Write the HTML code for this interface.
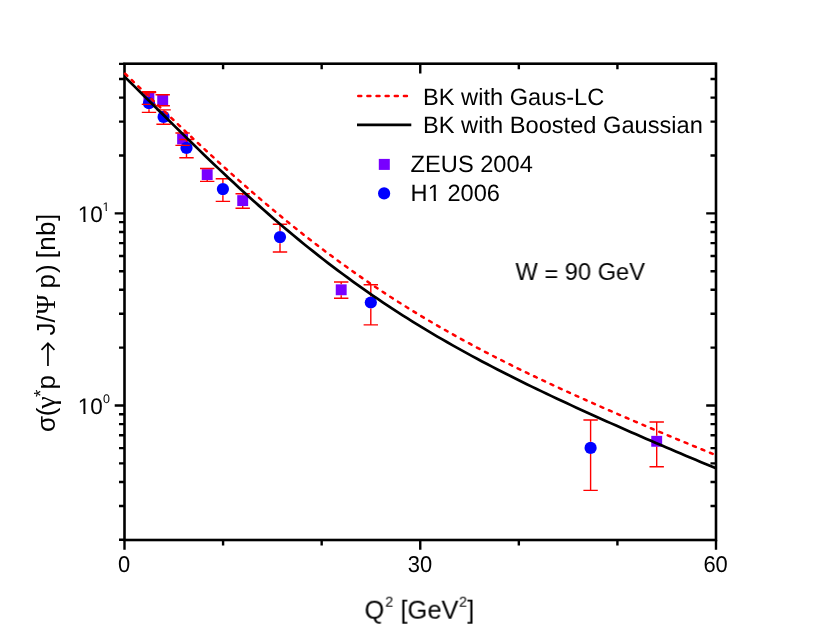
<!DOCTYPE html>
<html><head><meta charset="utf-8"><title>chart</title><style>html,body{margin:0;padding:0;background:#fff}body{width:830px;height:635px;overflow:hidden;font-family:"Liberation Sans",sans-serif}</style></head><body>
<svg width="830" height="635" viewBox="0 0 830 635" style="display:block">
<rect x="0" y="0" width="830" height="635" fill="#ffffff"/>
<g fill="#7800ff">
<rect x="143.45" y="92.95" width="10.9" height="10.9"/>
<rect x="157.25" y="94.65" width="10.9" height="10.9"/>
<rect x="177.15" y="133.55" width="10.9" height="10.9"/>
<rect x="201.75" y="169.15" width="10.9" height="10.9"/>
<rect x="237.25" y="195.15" width="10.9" height="10.9"/>
<rect x="335.75" y="284.35" width="10.9" height="10.9"/>
<rect x="651.25" y="435.85" width="10.9" height="10.9"/>
</g>
<g fill="#0000ff">
<circle cx="149.00" cy="103.20" r="6.1"/>
<circle cx="163.60" cy="116.90" r="6.1"/>
<circle cx="186.50" cy="147.90" r="6.1"/>
<circle cx="222.90" cy="189.10" r="6.1"/>
<circle cx="280.00" cy="237.10" r="6.1"/>
<circle cx="370.80" cy="302.50" r="6.1"/>
<circle cx="590.60" cy="447.90" r="6.1"/>
</g>
<g stroke="#ff0000" stroke-width="1.4" fill="none">
<path d="M148.90 91.80V92.95M148.90 103.85V104.40M141.70 91.80H156.10M141.70 104.40H156.10"/>
<path d="M162.70 105.55V105.80M155.50 94.80H169.90M155.50 105.80H169.90"/>
<path d="M182.60 132.95V133.55M182.60 144.45V145.40M175.40 132.95H189.80M175.40 145.40H189.80"/>
<path d="M207.20 168.50V169.15M207.20 180.05V181.40M200.00 168.50H214.40M200.00 181.40H214.40"/>
<path d="M242.70 193.70V195.15M242.70 206.05V208.30M235.50 193.70H249.90M235.50 208.30H249.90"/>
<path d="M341.20 282.00V284.35M341.20 295.25V298.30M334.00 282.00H348.40M334.00 298.30H348.40"/>
<path d="M656.70 422.00V435.85M656.70 446.75V466.70M649.50 422.00H663.90M649.50 466.70H663.90"/>
<path d="M149.00 92.50V97.10M149.00 109.30V112.40M141.80 92.50H156.20M141.80 112.40H156.20"/>
<path d="M163.60 109.90V110.80M163.60 123.00V124.30M156.40 109.90H170.80M156.40 124.30H170.80"/>
<path d="M186.50 139.50V141.80M186.50 154.00V157.80M179.30 139.50H193.70M179.30 157.80H193.70"/>
<path d="M222.90 178.80V183.00M222.90 195.20V201.40M215.70 178.80H230.10M215.70 201.40H230.10"/>
<path d="M280.00 224.30V231.00M280.00 243.20V252.00M272.80 224.30H287.20M272.80 252.00H287.20"/>
<path d="M370.80 284.70V296.40M370.80 308.60V324.90M363.60 284.70H378.00M363.60 324.90H378.00"/>
<path d="M590.60 420.00V441.80M590.60 454.00V490.40M583.40 420.00H597.80M583.40 490.40H597.80"/>
</g>
<rect x="124.5" y="63.7" width="591.5" height="476.3" fill="none" stroke="#000" stroke-width="2.6"/>
<path d="M124.50 540.0v9.8M223.08 540.0v5.5M223.08 63.7v5.5M321.67 540.0v5.5M321.67 63.7v5.5M420.25 540.0v9.8M420.25 63.7v9.8M518.83 540.0v5.5M518.83 63.7v5.5M617.42 540.0v5.5M617.42 63.7v5.5M716.00 540.0v9.8M124.5 539.81h-5.5M124.5 505.97h-5.5M716.0 505.97h-5.5M124.5 481.96h-5.5M716.0 481.96h-5.5M124.5 463.34h-5.5M716.0 463.34h-5.5M124.5 448.13h-5.5M716.0 448.13h-5.5M124.5 435.26h-5.5M716.0 435.26h-5.5M124.5 424.12h-5.5M716.0 424.12h-5.5M124.5 414.29h-5.5M716.0 414.29h-5.5M124.5 405.50h-9.8M716.0 405.50h-9.8M124.5 347.66h-5.5M716.0 347.66h-5.5M124.5 313.82h-5.5M716.0 313.82h-5.5M124.5 289.81h-5.5M716.0 289.81h-5.5M124.5 271.19h-5.5M716.0 271.19h-5.5M124.5 255.98h-5.5M716.0 255.98h-5.5M124.5 243.11h-5.5M716.0 243.11h-5.5M124.5 231.97h-5.5M716.0 231.97h-5.5M124.5 222.14h-5.5M716.0 222.14h-5.5M124.5 213.35h-9.8M716.0 213.35h-9.8M124.5 155.51h-5.5M716.0 155.51h-5.5M124.5 121.67h-5.5M716.0 121.67h-5.5M124.5 97.66h-5.5M716.0 97.66h-5.5M124.5 79.04h-5.5M716.0 79.04h-5.5M124.5 63.83h-5.5M716.0 63.83h-5.5" stroke="#000" stroke-width="2.4" fill="none"/>
<path d="M124.50 76.61L129.47 81.48L134.43 86.37L139.40 91.27L144.37 96.18L149.33 101.09L154.30 106.00L159.26 110.92L164.23 115.82L169.20 120.73L174.16 125.62L179.13 130.50L184.10 135.37L189.06 140.22L194.03 145.06L199.00 149.87L203.96 154.66L208.93 159.42L213.89 164.16L218.86 168.87L223.83 173.55L228.79 178.20L233.76 182.82L238.73 187.40L243.69 191.95L248.66 196.46L253.63 200.94L258.59 205.38L263.56 209.77L268.53 214.13L273.49 218.44L278.46 222.72L283.42 226.95L288.39 231.14L293.36 235.28L298.32 239.39L303.29 243.44L308.26 247.46L313.22 251.42L318.19 255.35L323.16 259.23L328.12 263.06L333.09 266.85L338.05 270.59L343.02 274.29L347.99 277.95L352.95 281.56L357.92 285.12L362.89 288.65L367.85 292.12L372.82 295.56L377.79 298.95L382.75 302.30L387.72 305.61L392.68 308.88L397.65 312.11L402.62 315.30L407.58 318.44L412.55 321.55L417.52 324.62L422.48 327.66L427.45 330.65L432.42 333.62L437.38 336.54L442.35 339.43L447.32 342.29L452.28 345.12L457.25 347.91L462.21 350.68L467.18 353.41L472.15 356.11L477.11 358.79L482.08 361.44L487.05 364.06L492.01 366.65L496.98 369.23L501.95 371.77L506.91 374.30L511.88 376.80L516.84 379.28L521.81 381.74L526.78 384.18L531.74 386.60L536.71 389.00L541.68 391.39L546.64 393.76L551.61 396.11L556.58 398.45L561.54 400.78L566.51 403.09L571.47 405.39L576.44 407.67L581.41 409.95L586.37 412.21L591.34 414.46L596.31 416.70L601.27 418.94L606.24 421.16L611.21 423.38L616.17 425.58L621.14 427.78L626.11 429.97L631.07 432.15L636.04 434.33L641.00 436.50L645.97 438.66L650.94 440.81L655.90 442.96L660.87 445.10L665.84 447.23L670.80 449.35L675.77 451.47L680.74 453.57L685.70 455.67L690.67 457.76L695.63 459.84L700.60 461.91L705.57 463.96L710.53 466.01L715.50 468.04" stroke="#000" stroke-width="2.7" fill="none" stroke-linejoin="round"/>
<path d="M124.50 73.14L129.46 77.89L134.42 82.64L139.38 87.40L144.34 92.15L149.29 96.91L154.25 101.66L159.21 106.41L164.17 111.15L169.13 115.88L174.09 120.60L179.05 125.30L184.01 129.99L188.96 134.66L193.92 139.32L198.88 143.95L203.84 148.55L208.80 153.14L213.76 157.70L218.72 162.23L223.68 166.73L228.64 171.20L233.59 175.65L238.55 180.06L243.51 184.44L248.47 188.79L253.43 193.10L258.39 197.37L263.35 201.61L268.31 205.82L273.26 209.99L278.22 214.11L283.18 218.20L288.14 222.26L293.10 226.27L298.06 230.24L303.02 234.18L307.98 238.07L312.94 241.92L317.89 245.73L322.85 249.50L327.81 253.23L332.77 256.92L337.73 260.57L342.69 264.18L347.65 267.75L352.61 271.28L357.56 274.76L362.52 278.21L367.48 281.62L372.44 284.98L377.40 288.31L382.36 291.60L387.32 294.85L392.28 298.07L397.24 301.24L402.19 304.38L407.15 307.48L412.11 310.54L417.07 313.57L422.03 316.57L426.99 319.52L431.95 322.45L436.91 325.34L441.86 328.20L446.82 331.03L451.78 333.82L456.74 336.59L461.70 339.32L466.66 342.03L471.62 344.70L476.58 347.35L481.54 349.97L486.49 352.57L491.45 355.13L496.41 357.68L501.37 360.20L506.33 362.69L511.29 365.17L516.25 367.62L521.21 370.05L526.16 372.45L531.12 374.84L536.08 377.21L541.04 379.56L546.00 381.90L550.96 384.21L555.92 386.51L560.88 388.80L565.84 391.07L570.79 393.32L575.75 395.57L580.71 397.79L585.67 400.01L590.63 402.21L595.59 404.41L600.55 406.59L605.51 408.76L610.46 410.92L615.42 413.07L620.38 415.22L625.34 417.35L630.30 419.48L635.26 421.60L640.22 423.71L645.18 425.82L650.14 427.91L655.09 430.01L660.05 432.09L665.01 434.17L669.97 436.24L674.93 438.31L679.89 440.37L684.85 442.42L689.81 444.47L694.76 446.51L699.72 448.55L704.68 450.57L709.64 452.60L714.60 454.61" stroke="#ff0000" stroke-width="2.5" stroke-dasharray="3.0 6.135" stroke-dashoffset="-0.8" stroke-linecap="round" stroke-linejoin="round" fill="none"/>
<path d="M358.25 96.1H407" stroke="#ff0000" stroke-width="2.5" stroke-dasharray="3.0 6.135" stroke-linecap="round" fill="none"/>
<path d="M357 124.8H411.3" stroke="#000" stroke-width="2.7" fill="none"/>
<rect x="378.8" y="158.9" width="11" height="11" fill="#7800ff"/>
<circle cx="384.1" cy="193.4" r="6.1" fill="#0000ff"/>
<g font-family="Liberation Sans, sans-serif" fill="#000" style="opacity:0.999">
<text transform="matrix(1 0 0.001 1 423 105.2)" font-size="23.65">BK with Gaus-LC</text>
<text transform="matrix(1 0 0.001 1 423 133.3)" font-size="23.65">BK with Boosted Gaussian</text>
<text transform="matrix(1 0 0.001 1 410.6 172)" font-size="23.65">ZEUS 2004</text>
<text transform="matrix(1 0 0.001 1 410.6 200.8)" font-size="23.65">H1 2006</text>
<text transform="matrix(1 0 0.001 1 515.5 280)" font-size="23.65">W <tspan dy="1.7">=</tspan><tspan dy="-1.7"> 90 GeV</tspan></text>
<text transform="matrix(0.975 0 0.001 1.02 124.0 571.7)" font-size="22.5" text-anchor="middle">0</text>
<text transform="matrix(0.975 0 0.001 1.02 419.9 571.7)" font-size="22.5" text-anchor="middle">30</text>
<text transform="matrix(0.975 0 0.001 1.02 715.6 571.7)" font-size="22.5" text-anchor="middle">60</text>
<text transform="matrix(1 0 0.001 1 77.8 221.6)" font-size="22.5">10<tspan font-size="12.5" dy="-11" dx="-0.2">1</tspan></text>
<text transform="matrix(1 0 0.001 1 77.8 413.6)" font-size="22.5">10<tspan font-size="12.5" dy="-11" dx="0.3">0</tspan></text>
<text transform="matrix(1 0 0.001 1 364.5 618.7)" font-size="25.5">Q<tspan font-size="14.5" dy="-12.5" dx="1">2</tspan><tspan dy="12.5" font-size="25.5"> [GeV</tspan><tspan font-size="14.5" dy="-12.5" dx="0.5">2</tspan><tspan dy="12.5" font-size="25.5">]</tspan></text>
<text transform="translate(54.6 432.0) rotate(-90)" font-size="26" >σ</text>
<text transform="translate(54.6 416.3) rotate(-90)" font-size="26" >(</text>
<text transform="translate(54.6 408.8) rotate(-90)" font-size="28" font-family="Liberation Serif, serif">γ</text>
<text transform="translate(46.6 397.0) rotate(-90)" font-size="19" >*</text>
<text transform="translate(54.6 389.5) rotate(-90)" font-size="26" >p</text>
<path d="M47.95 366V343.4M41.5 349.9L47.95 343.2L54.45 349.9" stroke="#000" stroke-width="1.7" fill="none" stroke-linejoin="miter"/>
<text transform="translate(54.6 335.6) rotate(-90)" font-size="26" >J/</text>
<text transform="translate(54.6 314.4) rotate(-90)" font-size="27" font-family="Liberation Serif, serif">Ψ</text>
<text transform="translate(54.6 288.4) rotate(-90)" font-size="26" letter-spacing="0.9">p)</text>
<text transform="translate(54.6 258.3) rotate(-90)" font-size="26" letter-spacing="0.35">[nb]</text>
</g>
<g fill="#ffffff">
<rect x="78.3" y="219.9" width="5.16" height="2.70"/><rect x="85.52" y="219.9" width="4.78" height="2.70"/>
<rect x="78.3" y="411.90000000000003" width="5.16" height="2.70"/><rect x="85.52" y="411.90000000000003" width="4.78" height="2.70"/>
<rect x="102.3" y="209.79999999999998" width="3.44" height="1.60"/><rect x="106.87" y="209.79999999999998" width="2.83" height="1.60"/>
<rect x="428.0" y="198.9" width="5.69" height="2.60"/><rect x="435.87" y="198.9" width="4.73" height="2.60"/>
</g>
</svg>
</body></html>
